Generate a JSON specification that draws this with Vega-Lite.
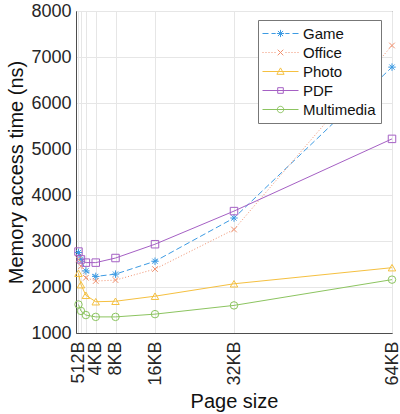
{
  "$schema": "https://vega.github.io/schema/vega-lite/v6.json",
  "width": 316,
  "height": 322,
  "autosize": {"type": "none"},
  "padding": {"left": 76, "top": 11, "right": 8, "bottom": 81},
  "background": "white",
  "config": {
    "font": "Liberation Sans",
    "view": {"stroke": "#4d4d4d", "strokeWidth": 1},
    "axis": {
      "labelFont": "Liberation Sans",
      "titleFont": "Liberation Sans",
      "labelColor": "#262626",
      "titleColor": "#111111",
      "labelFontSize": 18,
      "titleFontSize": 20,
      "titleFontWeight": "normal",
      "domainColor": "#4d4d4d",
      "gridColor": "#e6e6e6",
      "gridWidth": 1,
      "ticks": false
    }
  },
  "data": {
    "values": [
      {"page": 0.5, "series": "Game", "time": 2750},
      {"page": 1, "series": "Game", "time": 2600},
      {"page": 2, "series": "Game", "time": 2350},
      {"page": 4, "series": "Game", "time": 2230},
      {"page": 8, "series": "Game", "time": 2280},
      {"page": 16, "series": "Game", "time": 2560},
      {"page": 32, "series": "Game", "time": 3500},
      {"page": 64, "series": "Game", "time": 6780},
      {"page": 0.5, "series": "Office", "time": 2600},
      {"page": 1, "series": "Office", "time": 2450},
      {"page": 2, "series": "Office", "time": 2200},
      {"page": 4, "series": "Office", "time": 2130},
      {"page": 8, "series": "Office", "time": 2150},
      {"page": 16, "series": "Office", "time": 2390},
      {"page": 32, "series": "Office", "time": 3250},
      {"page": 64, "series": "Office", "time": 7250},
      {"page": 0.5, "series": "Photo", "time": 2300},
      {"page": 1, "series": "Photo", "time": 2050},
      {"page": 2, "series": "Photo", "time": 1820},
      {"page": 4, "series": "Photo", "time": 1680},
      {"page": 8, "series": "Photo", "time": 1690},
      {"page": 16, "series": "Photo", "time": 1800},
      {"page": 32, "series": "Photo", "time": 2070},
      {"page": 64, "series": "Photo", "time": 2420},
      {"page": 0.5, "series": "PDF", "time": 2770},
      {"page": 1, "series": "PDF", "time": 2600},
      {"page": 2, "series": "PDF", "time": 2530},
      {"page": 4, "series": "PDF", "time": 2530},
      {"page": 8, "series": "PDF", "time": 2630},
      {"page": 16, "series": "PDF", "time": 2930},
      {"page": 32, "series": "PDF", "time": 3650},
      {"page": 64, "series": "PDF", "time": 5220},
      {"page": 0.5, "series": "Multimedia", "time": 1620},
      {"page": 1, "series": "Multimedia", "time": 1480},
      {"page": 2, "series": "Multimedia", "time": 1390},
      {"page": 4, "series": "Multimedia", "time": 1350},
      {"page": 8, "series": "Multimedia", "time": 1350},
      {"page": 16, "series": "Multimedia", "time": 1410},
      {"page": 32, "series": "Multimedia", "time": 1600},
      {"page": 64, "series": "Multimedia", "time": 2160}
    ]
  },
  "encoding": {
    "x": {
      "field": "page",
      "type": "quantitative",
      "scale": {"domain": [0, 64], "nice": false, "zero": false},
      "axis": {
        "title": "Page size",
        "values": [0.5, 1, 2, 4, 8, 16, 32, 64],
        "labelExpr": "datum.value == 0.5 ? '512B' : (datum.value < 4 ? '' : datum.value + 'KB')",
        "labelAngle": 270,
        "labelAlign": "right",
        "labelBaseline": "middle",
        "labelOverlap": false,
        "labelPadding": 8,
        "titlePadding": 6
      }
    },
    "y": {
      "field": "time",
      "type": "quantitative",
      "scale": {"domain": [1000, 8000], "nice": false, "zero": false},
      "axis": {
        "title": "Memory access time (ns)",
        "values": [1000, 2000, 3000, 4000, 5000, 6000, 7000, 8000],
        "format": "d",
        "labelPadding": 5,
        "titlePadding": 4
      }
    },
    "color": {
      "field": "series",
      "type": "nominal",
      "scale": {
        "domain": ["Game", "Office", "Photo", "PDF", "Multimedia"],
        "range": ["#3d9be3", "#f0906e", "#f5c040", "#a560c4", "#8cc460"]
      },
      "legend": {
        "title": null,
        "orient": "none",
        "legendX": 182,
        "legendY": 9,
        "fillColor": "white",
        "strokeColor": "#777777",
        "padding": 5,
        "labelFont": "Liberation Sans",
        "labelFontSize": 15,
        "labelColor": "#111111",
        "labelOffset": 14,
        "symbolOffset": 9,
        "rowPadding": 2,
        "symbolSize": 256,
        "symbolStrokeWidth": 1,
        "symbolFillColor": "transparent",
        "encode": {
          "symbols": {
            "update": {
              "shape": {
                "signal": "datum.value == 'Game' ? 'M-2.25,0H-1.5M-1.125,0H-0.6M0.6,0H1.125M1.5,0H2.25M-0.45,0H0.45M0,-0.45V0.45M-0.32,-0.32L0.32,0.32M-0.32,0.32L0.32,-0.32' : datum.value == 'Office' ? 'M-2.25,0H-2.125M-1.875,0H-1.75M-1.5,0H-1.375M-1.125,0H-1M-0.75,0H-0.625M0.625,0H0.75M1,0H1.125M1.375,0H1.5M1.75,0H1.875M2.125,0H2.25M-0.35,-0.35L0.35,0.35M-0.35,0.35L0.35,-0.35' : datum.value == 'Photo' ? 'M-2.25,0H2.25M-0.45,0.35L0,-0.45L0.45,0.35Z' : datum.value == 'PDF' ? 'M-2.25,0H2.25M-0.35,-0.35H0.35V0.35H-0.35Z' : 'M-2.25,0H2.25M0.4,0A0.4,0.4 0 1,1 -0.4,0A0.4,0.4 0 1,1 0.4,0Z'"
              },
              "fill": {"value": "transparent"}
            }
          }
        }
      }
    }
  },
  "layer": [
    {
      "transform": [{"filter": "datum.series == 'Game'"}],
      "mark": {"type": "line", "strokeWidth": 1, "strokeDash": [6, 3]}
    },
    {
      "transform": [{"filter": "datum.series == 'Office'"}],
      "mark": {"type": "line", "strokeWidth": 1, "strokeDash": [1, 2]}
    },
    {
      "transform": [{"filter": {"field": "series", "oneOf": ["Photo", "PDF", "Multimedia"]}}],
      "mark": {"type": "line", "strokeWidth": 1}
    },
    {
      "transform": [{"filter": "datum.series == 'Game'"}],
      "mark": {"type": "point", "filled": false, "size": 56, "strokeWidth": 1, "opacity": 1, "shape": "M-1,0H1M0,-1V1M-0.7,-0.7L0.7,0.7M-0.7,0.7L0.7,-0.7"}
    },
    {
      "transform": [{"filter": "datum.series == 'Office'"}],
      "mark": {"type": "point", "filled": false, "size": 56, "strokeWidth": 1, "opacity": 1, "shape": "M-0.75,-0.75L0.75,0.75M-0.75,0.75L0.75,-0.75"}
    },
    {
      "transform": [{"filter": "datum.series == 'Photo'"}],
      "mark": {"type": "point", "filled": false, "size": 56, "strokeWidth": 1, "opacity": 1, "shape": "triangle-up"}
    },
    {
      "transform": [{"filter": "datum.series == 'PDF'"}],
      "mark": {"type": "point", "filled": false, "size": 56, "strokeWidth": 1, "opacity": 1, "shape": "square"}
    },
    {
      "transform": [{"filter": "datum.series == 'Multimedia'"}],
      "mark": {"type": "point", "filled": false, "size": 56, "strokeWidth": 1, "opacity": 1, "shape": "circle"}
    }
  ]
}
